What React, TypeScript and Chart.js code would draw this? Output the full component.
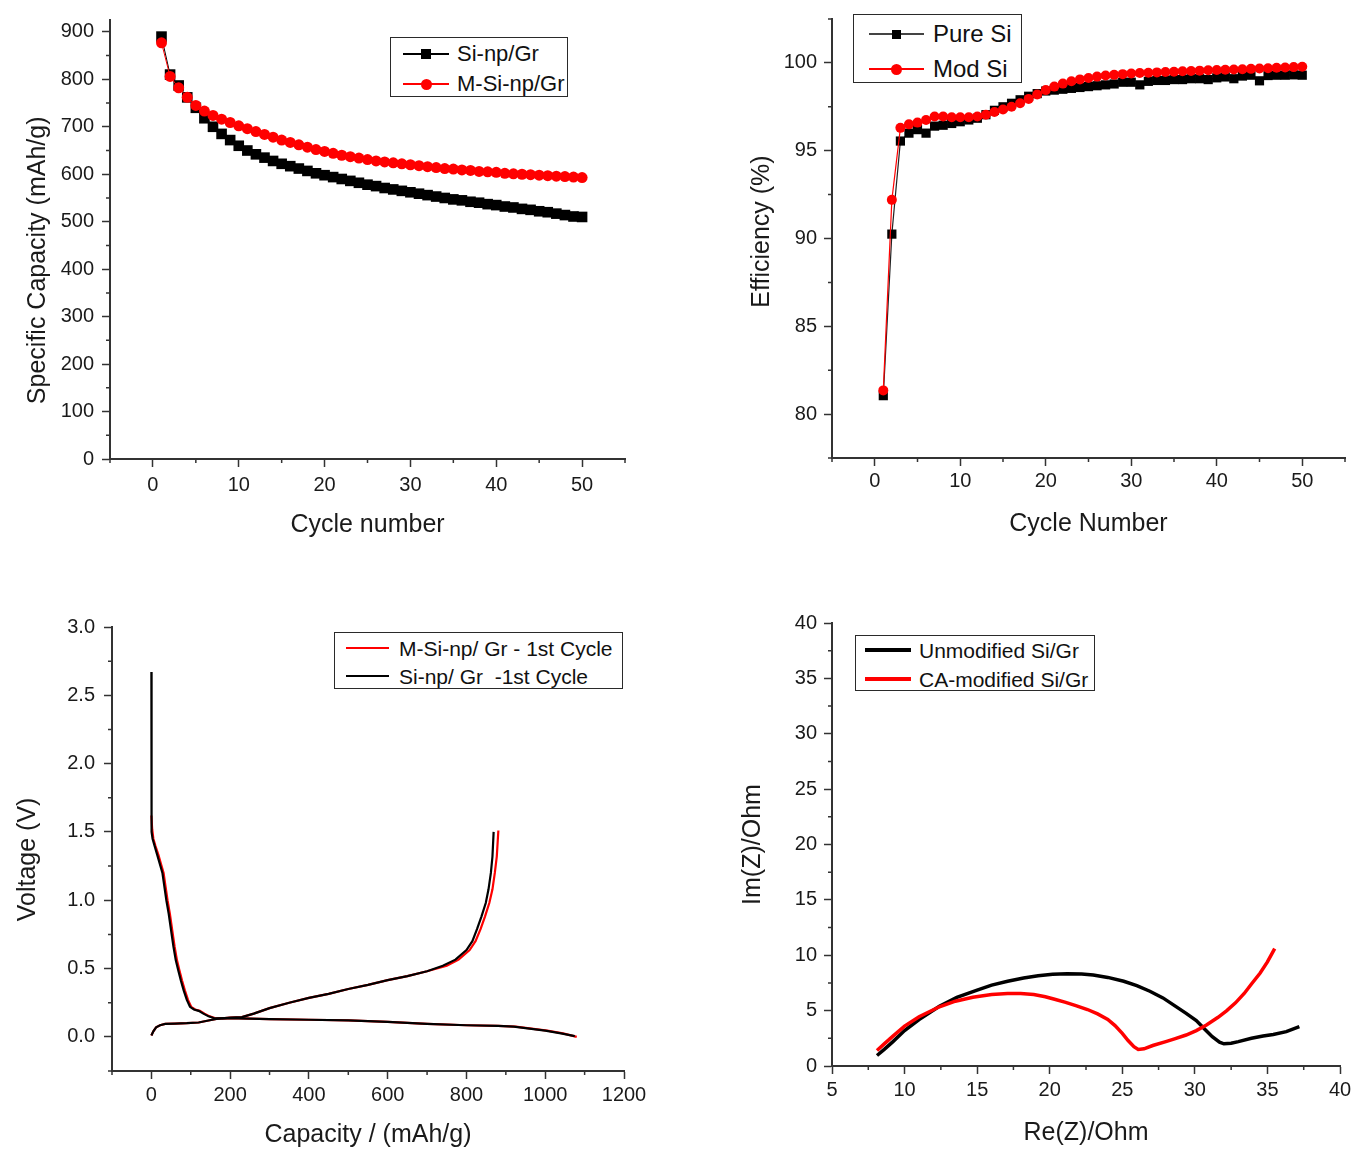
import React, { useEffect, useRef } from "react";
import { Chart, registerables } from "chart.js";

Chart.register(...registerables);

const FONT = "'Liberation Sans', Arial, sans-serif";
const AXIS = "#333333";
const TEXT = "#1a1a1a";
const RED = "#ff0000";
const BLACK = "#000000";

// ---------- Panel A: specific capacity vs cycle ----------
const cycles = [
  1, 2, 3, 4, 5, 6, 7, 8, 9, 10, 11, 12, 13, 14, 15, 16, 17, 18, 19, 20, 21, 22, 23, 24, 25,
  26, 27, 28, 29, 30, 31, 32, 33, 34, 35, 36, 37, 38, 39, 40, 41, 42, 43, 44, 45, 46, 47, 48, 49, 50,
];
const capSiNpGr = [
  890, 810, 787, 762, 740, 718, 700, 685, 672, 660, 650, 642, 635, 628, 622, 617, 612, 607, 602, 598,
  594, 590, 586, 582, 578, 575, 571, 568, 565, 562, 559, 556, 553, 550, 547, 545, 542, 540, 537, 535,
  532, 530, 527, 525, 522, 520, 517, 514, 511, 510,
];
const capMSiNpGr = [
  877, 806, 782, 762, 745, 733, 724, 716, 709, 702, 696, 690, 684, 678, 672, 667, 662, 657, 652, 648,
  644, 640, 637, 634, 631, 628, 626, 624, 622, 620, 618, 616, 614, 612, 611, 609, 608, 606, 605, 604,
  602, 601, 600, 599, 598, 597, 596, 595, 594, 593,
];
const cycleTicks = [0, 10, 20, 30, 40, 50];
const cycleMinor = [-5, 5, 15, 25, 35, 45, 55];
const capYTicks = [0, 100, 200, 300, 400, 500, 600, 700, 800, 900];
const capYMinor = [50, 150, 250, 350, 450, 550, 650, 750, 850];

// ---------- Panel B: coulombic efficiency ----------
const effPureSi = [
  81.05, 90.25, 95.55, 96.0, 96.2, 96.0, 96.4, 96.45, 96.55, 96.65, 96.75, 96.85, 97.05, 97.3, 97.5,
  97.7, 97.9, 98.1, 98.25, 98.4, 98.45, 98.5, 98.55, 98.6, 98.65, 98.7, 98.75, 98.8, 98.9, 98.9,
  98.75, 98.95, 99.0, 99.0, 99.05, 99.05, 99.1, 99.1, 99.05, 99.15, 99.2, 99.1, 99.25, 99.3, 98.98,
  99.28, 99.3, 99.3, 99.32, 99.3,
];
const effModSi = [
  81.35, 92.2, 96.3, 96.5, 96.6, 96.75, 96.95, 96.95, 96.9, 96.9, 96.9, 96.95, 97.05, 97.2, 97.35,
  97.5, 97.7, 97.95, 98.2, 98.45, 98.65, 98.82, 98.95, 99.06, 99.14, 99.22, 99.28, 99.32, 99.36, 99.4,
  99.42, 99.44, 99.46, 99.48, 99.5, 99.52, 99.54, 99.56, 99.58, 99.6, 99.61, 99.62, 99.64, 99.66,
  99.68, 99.7, 99.72, 99.74, 99.76, 99.78,
];
const effYTicks = [80, 85, 90, 95, 100];
const effYMinor = [77.5, 82.5, 87.5, 92.5, 97.5, 102.5];

// ---------- Panel C: voltage profiles, 1st cycle ([capacity, voltage]) ----------
const siDischarge = [
  [0, 2.67], [0, 2.2], [0.5, 1.62], [1, 1.5], [3, 1.45], [8, 1.4], [15, 1.33], [22, 1.26], [28, 1.2],
  [33, 1.1], [38, 1.0], [44, 0.9], [50, 0.78], [56, 0.66], [62, 0.56], [68, 0.49], [75, 0.41],
  [82, 0.34], [90, 0.27], [98, 0.22], [108, 0.2], [120, 0.19], [132, 0.17], [145, 0.15], [158, 0.138],
  [180, 0.135], [220, 0.135], [300, 0.13], [400, 0.125], [500, 0.12], [600, 0.11], [700, 0.095],
  [800, 0.085], [880, 0.08], [920, 0.075], [960, 0.06], [1000, 0.045], [1040, 0.025], [1075, 0.005],
];
const siCharge = [
  [0, 0.01], [5, 0.04], [12, 0.07], [22, 0.085], [35, 0.095], [60, 0.097], [90, 0.1], [120, 0.105],
  [145, 0.12], [165, 0.132], [200, 0.14], [230, 0.145], [260, 0.17], [300, 0.21], [350, 0.25],
  [400, 0.285], [450, 0.315], [500, 0.35], [550, 0.38], [600, 0.415], [650, 0.445], [700, 0.48],
  [740, 0.52], [772, 0.565], [800, 0.635], [815, 0.7], [827, 0.79], [838, 0.88], [849, 0.98],
  [856, 1.08], [862, 1.2], [866, 1.32], [869, 1.5],
];
const mSiDischarge = [
  [0, 1.62], [2, 1.52], [5, 1.45], [10, 1.4], [18, 1.33], [25, 1.26], [31, 1.2], [36, 1.1], [41, 1.0],
  [47, 0.9], [53, 0.78], [59, 0.66], [65, 0.56], [71, 0.49], [78, 0.41], [85, 0.34], [93, 0.27],
  [101, 0.22], [111, 0.2], [123, 0.19], [135, 0.17], [148, 0.15], [161, 0.138], [185, 0.135],
  [225, 0.135], [300, 0.13], [400, 0.125], [500, 0.12], [600, 0.11], [700, 0.095], [800, 0.085],
  [880, 0.08], [925, 0.075], [965, 0.06], [1005, 0.045], [1045, 0.025], [1080, 0.0],
];
const mSiCharge = [
  [0, 0.01], [5, 0.04], [12, 0.07], [22, 0.085], [35, 0.095], [60, 0.097], [90, 0.1], [120, 0.105],
  [145, 0.12], [165, 0.132], [200, 0.14], [230, 0.145], [260, 0.17], [300, 0.21], [350, 0.25],
  [400, 0.285], [450, 0.315], [500, 0.35], [550, 0.38], [600, 0.415], [650, 0.445], [700, 0.48],
  [750, 0.52], [780, 0.565], [808, 0.635], [823, 0.7], [836, 0.79], [847, 0.88], [858, 0.98],
  [866, 1.08], [872, 1.2], [877, 1.32], [881, 1.51],
];
const voltXTicks = [0, 200, 400, 600, 800, 1000, 1200];
const voltXMinor = [-100, 100, 300, 500, 700, 900, 1100];
const voltYTicks = [0, 0.5, 1.0, 1.5, 2.0, 2.5, 3.0];
const voltYMinor = [-0.25, 0.25, 0.75, 1.25, 1.75, 2.25, 2.75];

// ---------- Panel D: Nyquist plot ([Re(Z), Im(Z)]) ----------
const unmodifiedZ = [
  [8.1, 0.95], [8.6, 1.5], [9.2, 2.2], [10.0, 3.2], [11.0, 4.2], [12.4, 5.4], [13.6, 6.2],
  [15.0, 6.85], [16.0, 7.3], [17.1, 7.65], [18.2, 7.95], [19.2, 8.15], [20.2, 8.28], [21.2, 8.32],
  [22.2, 8.3], [23.0, 8.22], [24.0, 8.0], [25.1, 7.65], [26.0, 7.25], [26.9, 6.75], [27.8, 6.15],
  [28.6, 5.45], [29.4, 4.75], [30.1, 4.1], [30.7, 3.3], [31.2, 2.65], [31.7, 2.15], [32.0, 2.0],
  [32.5, 2.05], [33.0, 2.2], [33.9, 2.5], [34.7, 2.7], [35.4, 2.85], [36.3, 3.1], [37.2, 3.55],
];
const caModifiedZ = [
  [8.1, 1.4], [8.6, 2.0], [9.2, 2.7], [10.0, 3.6], [11.0, 4.45], [12.4, 5.35], [13.5, 5.85],
  [14.7, 6.2], [16.0, 6.45], [17.1, 6.55], [18.0, 6.55], [18.9, 6.45], [19.7, 6.25], [20.4, 6.0],
  [21.1, 5.75], [21.8, 5.45], [22.6, 5.1], [23.3, 4.7], [24.0, 4.2], [24.5, 3.65], [25.0, 2.95],
  [25.4, 2.3], [25.8, 1.75], [26.1, 1.5], [26.5, 1.55], [27.1, 1.85], [28.0, 2.2], [28.6, 2.45],
  [29.4, 2.8], [30.1, 3.2], [30.8, 3.7], [31.6, 4.4], [32.2, 5.0], [32.8, 5.7], [33.4, 6.55],
  [33.9, 7.4], [34.5, 8.4], [35.0, 9.4], [35.5, 10.6],
];
const zXTicks = [5, 10, 15, 20, 25, 30, 35, 40];
const zXMinor = [7.5, 12.5, 17.5, 22.5, 27.5, 32.5, 37.5];
const zYTicks = [0, 5, 10, 15, 20, 25, 30, 35, 40];
const zYMinor = [2.5, 7.5, 12.5, 17.5, 22.5, 27.5, 32.5, 37.5];

// ---------- helpers ----------
type AxisSpec = {
  min: number;
  max: number;
  ticks: number[];
  title: string;
  size: number;
  labelPad: number;
  titlePad: number;
  fmt?: (v: number) => string;
};

function scaleOptions(s: AxisSpec, horizontal: boolean) {
  return {
    type: "linear",
    position: horizontal ? "bottom" : "left",
    min: s.min,
    max: s.max,
    afterBuildTicks: (scale: any) => {
      scale.ticks = s.ticks.map((v) => ({ value: v }));
    },
    afterFit: (scale: any) => {
      if (horizontal) scale.height = s.size;
      else scale.width = s.size;
    },
    ticks: {
      autoSkip: false,
      maxRotation: 0,
      minRotation: 0,
      padding: s.labelPad,
      color: TEXT,
      font: { family: FONT, size: 20 },
      callback: (v: any) => (s.fmt ? s.fmt(Number(v)) : String(v)),
    },
    grid: {
      display: true,
      drawOnChartArea: false,
      drawTicks: true,
      tickLength: 8,
      tickWidth: 1.5,
      tickColor: AXIS,
    },
    border: { display: true, color: AXIS, width: 2 },
    title: {
      display: true,
      text: s.title,
      color: TEXT,
      font: { family: FONT, size: 25 },
      padding: horizontal ? { top: 0, bottom: s.titlePad } : { top: s.titlePad, bottom: 0 },
    },
  };
}

function minorTicksPlugin(xMinor: number[], yMinor: number[]) {
  return {
    id: "minorTicks",
    afterDraw(chart: any) {
      const ctx = chart.ctx;
      const xs = chart.scales.x;
      const ys = chart.scales.y;
      ctx.save();
      ctx.strokeStyle = AXIS;
      ctx.lineWidth = 1.5;
      ctx.beginPath();
      for (const v of xMinor) {
        const px = xs.getPixelForValue(v);
        ctx.moveTo(px, xs.top);
        ctx.lineTo(px, xs.top + 4);
      }
      for (const v of yMinor) {
        const py = ys.getPixelForValue(v);
        ctx.moveTo(ys.right, py);
        ctx.lineTo(ys.right - 4, py);
      }
      ctx.stroke();
      ctx.restore();
    },
  };
}

function makeConfig(p: {
  datasets: any[];
  x: AxisSpec;
  y: AxisSpec;
  padding: { top: number; right: number; bottom: number; left: number };
  xMinor: number[];
  yMinor: number[];
}): any {
  return {
    type: "scatter",
    data: { datasets: p.datasets },
    options: {
      responsive: false,
      maintainAspectRatio: false,
      animation: false,
      events: [],
      layout: { padding: p.padding },
      plugins: { legend: { display: false }, tooltip: { enabled: false } },
      scales: { x: scaleOptions(p.x, true), y: scaleOptions(p.y, false) },
    },
    plugins: [minorTicksPlugin(p.xMinor, p.yMinor)],
  };
}

const seriesXY = (xs: number[], ys: number[]) => xs.map((x, i) => ({ x, y: ys[i] }));
const pairsXY = (pairs: number[][]) => pairs.map(([x, y]) => ({ x, y }));

const lineDs = (data: any[], color: string, width: number) => ({
  data,
  showLine: true,
  borderColor: color,
  backgroundColor: color,
  borderWidth: width,
  pointRadius: 0,
  tension: 0,
});

const makeCapacity = () =>
  makeConfig({
    datasets: [
      {
        data: seriesXY(cycles, capMSiNpGr),
        showLine: true,
        borderColor: RED,
        borderWidth: 1,
        backgroundColor: RED,
        pointStyle: "circle",
        pointRadius: 5.5,
        pointBorderWidth: 0,
      },
      {
        data: seriesXY(cycles, capSiNpGr),
        showLine: true,
        borderColor: BLACK,
        borderWidth: 1,
        backgroundColor: BLACK,
        pointStyle: "rect",
        pointRadius: 7.5,
        pointBorderWidth: 0,
      },
    ],
    x: { min: -5, max: 55, ticks: cycleTicks, title: "Cycle number", size: 101, labelPad: 6, titlePad: 20 },
    y: {
      min: 0,
      max: 925,
      ticks: capYTicks,
      title: "Specific Capacity (mAh/g)      ",
      size: 110,
      labelPad: 8,
      titlePad: 23,
    },
    padding: { top: 15, right: 55, bottom: 0, left: 0 },
    xMinor: cycleMinor,
    yMinor: capYMinor,
  });

const makeEfficiency = () =>
  makeConfig({
    datasets: [
      {
        data: seriesXY(cycles, effModSi),
        showLine: true,
        borderColor: RED,
        borderWidth: 1.2,
        backgroundColor: RED,
        pointStyle: "circle",
        pointRadius: 5,
        pointBorderWidth: 0,
      },
      {
        data: seriesXY(cycles, effPureSi),
        showLine: true,
        borderColor: "#222222",
        borderWidth: 1.2,
        backgroundColor: BLACK,
        pointStyle: "rect",
        pointRadius: 6.5,
        pointBorderWidth: 0,
      },
    ],
    x: { min: -5, max: 55, ticks: cycleTicks, title: "Cycle Number", size: 102, labelPad: 3, titlePad: 21 },
    y: {
      min: 77.5,
      max: 102.5,
      ticks: effYTicks,
      title: "  Efficiency (%)",
      size: 152,
      labelPad: 7,
      titlePad: 67,
    },
    padding: { top: 14, right: 12, bottom: 0, left: 0 },
    xMinor: cycleMinor,
    yMinor: effYMinor,
  });

const makeVoltage = () =>
  makeConfig({
    datasets: [
      lineDs(pairsXY(siDischarge), BLACK, 2.2),
      lineDs(pairsXY(siCharge), BLACK, 2.2),
      lineDs(pairsXY(mSiDischarge), RED, 2.2),
      lineDs(pairsXY(mSiCharge), RED, 2.2),
    ],
    x: {
      min: -100,
      max: 1200,
      ticks: voltXTicks,
      title: "Capacity / (mAh/g)",
      size: 80,
      labelPad: 4,
      titlePad: 1,
    },
    y: {
      min: -0.25,
      max: 3.0,
      ticks: voltYTicks,
      title: "Voltage (V)   ",
      size: 112,
      labelPad: 9,
      titlePad: 13,
      fmt: (v) => v.toFixed(1),
    },
    padding: { top: 27, right: 56, bottom: 0, left: 0 },
    xMinor: voltXMinor,
    yMinor: voltYMinor,
  });

const makeNyquist = () =>
  makeConfig({
    datasets: [lineDs(pairsXY(caModifiedZ), RED, 3.5), lineDs(pairsXY(unmodifiedZ), BLACK, 3.5)],
    x: { min: 5, max: 40, ticks: zXTicks, title: "Re(Z)/Ohm", size: 85, labelPad: 4, titlePad: 3 },
    y: { min: 0, max: 40, ticks: zYTicks, title: "Im(Z)/Ohm", size: 152, labelPad: 7, titlePad: 58 },
    padding: { top: 23, right: 17, bottom: 0, left: 0 },
    xMinor: zXMinor,
    yMinor: zYMinor,
  });

function ChartPanel(props: { left: number; top: number; width: number; height: number; make: () => any }) {
  const ref = useRef<HTMLCanvasElement | null>(null);
  useEffect(() => {
    if (!ref.current) return;
    const chart = new Chart(ref.current, props.make());
    return () => chart.destroy();
  }, [props.make]);
  return (
    <canvas
      ref={ref}
      width={props.width}
      height={props.height}
      style={{
        position: "absolute",
        left: props.left,
        top: props.top,
        width: props.width,
        height: props.height,
        display: "block",
      }}
    />
  );
}

type LegendItem = {
  label: string;
  color: string;
  lineWidth: number;
  y: number;
  marker?: "rect" | "circle";
  markerSize?: number;
};

function Legend(props: {
  left: number;
  top: number;
  width: number;
  height: number;
  lineX1: number;
  lineX2: number;
  textX: number;
  fontSize: number;
  items: LegendItem[];
}) {
  const mid = (props.lineX1 + props.lineX2) / 2;
  return (
    <div
      style={{
        position: "absolute",
        left: props.left,
        top: props.top,
        width: props.width,
        height: props.height,
        boxSizing: "border-box",
        border: "1.5px solid #2a2a2a",
        background: "#ffffff",
      }}
    >
      {props.items.map((it, i) => (
        <React.Fragment key={i}>
          <div
            style={{
              position: "absolute",
              left: props.lineX1,
              top: it.y - it.lineWidth / 2,
              width: props.lineX2 - props.lineX1,
              height: it.lineWidth,
              background: it.color,
            }}
          />
          {it.marker ? (
            <div
              style={{
                position: "absolute",
                left: mid - (it.markerSize || 10) / 2,
                top: it.y - (it.markerSize || 10) / 2,
                width: it.markerSize || 10,
                height: it.markerSize || 10,
                background: it.marker === "circle" ? RED : BLACK,
                borderRadius: it.marker === "circle" ? "50%" : 0,
              }}
            />
          ) : null}
          <div
            style={{
              position: "absolute",
              left: props.textX,
              top: it.y,
              transform: "translateY(-50%)",
              fontFamily: FONT,
              fontSize: props.fontSize,
              lineHeight: 1,
              whiteSpace: "pre",
              color: "#111111",
            }}
          >
            {it.label}
          </div>
        </React.Fragment>
      ))}
    </div>
  );
}

export default function App() {
  return (
    <div
      style={{
        position: "absolute",
        left: 0,
        top: 0,
        width: 1357,
        height: 1151,
        background: "#ffffff",
        overflow: "hidden",
      }}
    >
      <ChartPanel left={0} top={0} width={680} height={560} make={makeCapacity} />
      <ChartPanel left={680} top={0} width={677} height={560} make={makeEfficiency} />
      <ChartPanel left={0} top={600} width={680} height={551} make={makeVoltage} />
      <ChartPanel left={680} top={600} width={677} height={551} make={makeNyquist} />

      <Legend
        left={390}
        top={37}
        width={178}
        height={60}
        lineX1={12}
        lineX2={58}
        textX={66}
        fontSize={22}
        items={[
          { label: "Si-np/Gr", color: BLACK, lineWidth: 1.5, y: 16, marker: "rect", markerSize: 10 },
          { label: "M-Si-np/Gr", color: RED, lineWidth: 1.5, y: 46, marker: "circle", markerSize: 11 },
        ]}
      />
      <Legend
        left={853}
        top={14}
        width={169}
        height={69}
        lineX1={15}
        lineX2={70}
        textX={79}
        fontSize={24}
        items={[
          { label: "Pure Si", color: "#444444", lineWidth: 1.5, y: 19, marker: "rect", markerSize: 9 },
          { label: "Mod Si", color: RED, lineWidth: 1.5, y: 54, marker: "circle", markerSize: 11 },
        ]}
      />
      <Legend
        left={334}
        top={632}
        width={289}
        height={57}
        lineX1={11}
        lineX2={54}
        textX={64}
        fontSize={21}
        items={[
          { label: "M-Si-np/ Gr - 1st Cycle", color: RED, lineWidth: 2.5, y: 15 },
          { label: "Si-np/ Gr  -1st Cycle", color: BLACK, lineWidth: 2.5, y: 43 },
        ]}
      />
      <Legend
        left={855}
        top={635}
        width={240}
        height={56}
        lineX1={9}
        lineX2={55}
        textX={63}
        fontSize={21}
        items={[
          { label: "Unmodified Si/Gr", color: BLACK, lineWidth: 4, y: 14 },
          { label: "CA-modified Si/Gr", color: RED, lineWidth: 4, y: 43 },
        ]}
      />
    </div>
  );
}
